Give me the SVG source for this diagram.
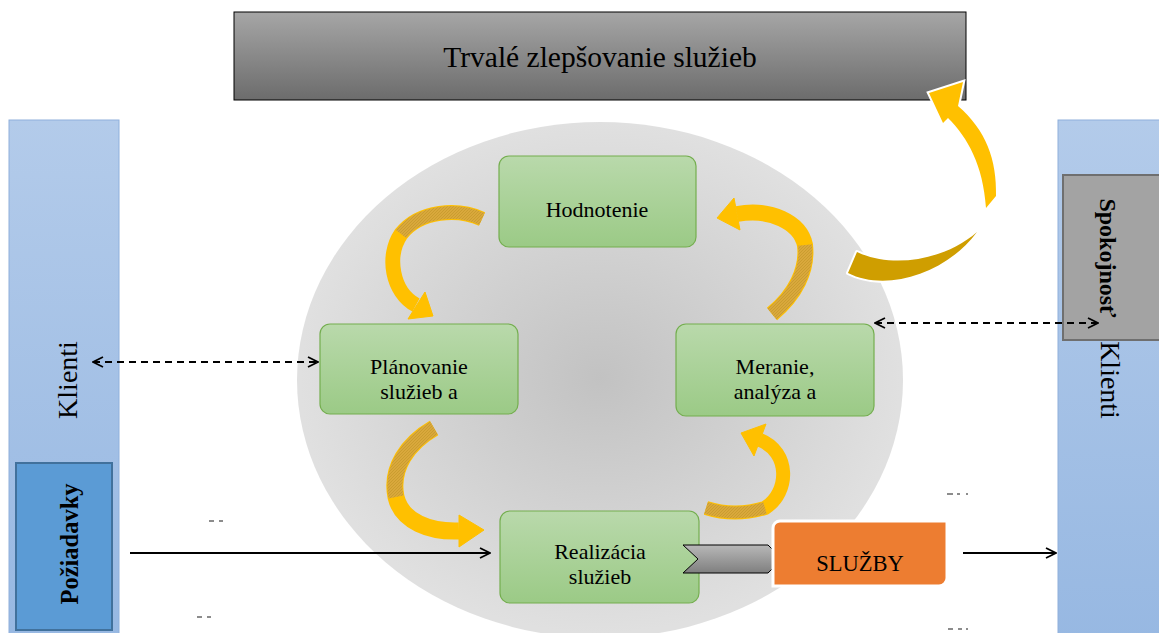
<svg xmlns="http://www.w3.org/2000/svg" width="1159" height="633" viewBox="0 0 1159 633">
<style>
.serif{font-family:"Liberation Serif","Times New Roman",serif;fill:#000}
.node{stroke:#74ae4f;stroke-width:1.2;fill:url(#gGreen)}
.ntext{font-size:22px;text-anchor:middle}
.dash{stroke:#000;stroke-width:2;stroke-dasharray:7 5;fill:none}
.solid{stroke:#000;stroke-width:1.8;fill:none}
.yl{fill:none;stroke:#ffc000;stroke-linecap:butt}
.hatch{fill:none;stroke:url(#hatch);stroke-linecap:butt}
.head{fill:#ffc000;stroke:#ffc000;stroke-width:1}
.mark{stroke:#666;stroke-width:1.5}
</style>
<defs>
<linearGradient id="gGreen" x1="0" y1="0" x2="0" y2="1"><stop offset="0" stop-color="#b9d9ab"/><stop offset="1" stop-color="#9bca86"/></linearGradient>
<linearGradient id="gTop" x1="0" y1="0" x2="0" y2="1"><stop offset="0" stop-color="#a6a6a6"/><stop offset="1" stop-color="#6c6c6c"/></linearGradient>
<linearGradient id="gBlue" x1="0" y1="0" x2="0" y2="1"><stop offset="0" stop-color="#b3cbea"/><stop offset="1" stop-color="#97b8e2"/></linearGradient>
<linearGradient id="gChev" x1="0" y1="0" x2="0" y2="1"><stop offset="0" stop-color="#b8b8b8"/><stop offset="1" stop-color="#7f7f7f"/></linearGradient>
<radialGradient id="gEll" cx="600" cy="378" r="300" gradientUnits="userSpaceOnUse" gradientTransform="translate(600 378) scale(1 0.85) translate(-600 -378)"><stop offset="0" stop-color="#c2c2c2"/><stop offset="1" stop-color="#e0e0e0"/></radialGradient>
<pattern id="hatch" patternUnits="userSpaceOnUse" width="3" height="3"><rect width="3" height="3" fill="#d9a83c"/><path d="M0,3 L3,0" stroke="#c79a2c" stroke-width="0.8"/></pattern>
<marker id="arr" viewBox="0 0 12 12" refX="11" refY="6" markerWidth="12" markerHeight="12" markerUnits="userSpaceOnUse" orient="auto-start-reverse"><path d="M1,1 L11,6 L1,11" fill="none" stroke="#000" stroke-width="1.8"/></marker>
</defs>
<rect width="1159" height="633" fill="#fff"/>

<g id="background-ellipse"><ellipse cx="600" cy="380" rx="303" ry="258" fill="url(#gEll)"/></g>

<g id="top-bar"><rect x="234" y="12" width="732" height="88" fill="url(#gTop)" stroke="#000" stroke-width="1"/><text class="serif" x="600" y="67" font-size="29.5" text-anchor="middle">Trvalé zlepšovanie služieb</text></g>

<g id="klienti-left"><rect x="9" y="120" width="110" height="520" fill="url(#gBlue)" stroke="#8fb0dc" stroke-width="1"/><text class="serif" transform="translate(77 380) rotate(-90)" font-size="28" text-anchor="middle">Klienti</text></g>
<g id="poziadavky"><rect x="16" y="463" width="96" height="167" fill="#5b9bd5" stroke="#41719c" stroke-width="2"/><text class="serif" transform="translate(78 544) rotate(-90)" font-size="24.5" font-weight="bold" text-anchor="middle">Požiadavky</text></g>

<g id="klienti-right"><rect x="1058" y="120" width="110" height="520" fill="url(#gBlue)" stroke="#8fb0dc" stroke-width="1"/><text class="serif" transform="translate(1101 380) rotate(90)" font-size="28" text-anchor="middle">Klienti</text></g>
<g id="spokojnost"><rect x="1063" y="175" width="100" height="165" fill="#a3a3a3" stroke="#6f6f6f" stroke-width="2"/><text class="serif" transform="translate(1100 258) rotate(90)" font-size="24" font-weight="bold" text-anchor="middle">Spokojnosť</text></g>

<g id="hodnotenie"><rect class="node" x="499" y="156" width="197" height="91" rx="10"/><text class="serif ntext" x="597" y="217">Hodnotenie</text></g>
<g id="planovanie"><rect class="node" x="320" y="324" width="198" height="90" rx="10"/><text class="serif ntext" x="419" y="374">Plánovanie</text><text class="serif ntext" x="419" y="399">služieb a</text></g>
<g id="meranie"><rect class="node" x="676" y="324" width="198" height="92" rx="10"/><text class="serif ntext" x="775" y="374">Meranie,</text><text class="serif ntext" x="775" y="399">analýza a</text></g>
<g id="realizacia"><rect class="node" x="500" y="511" width="199" height="92" rx="10"/><text class="serif ntext" x="600" y="559">Realizácia</text><text class="serif ntext" x="600" y="584">služieb</text></g>

<g id="chevron"><polygon points="683,545 768,545 782,559 768,573 683,573 698,559" fill="url(#gChev)" stroke="#000" stroke-width="1"/></g>
<g id="sluzby"><path d="M780,521 H947 V578 A8,8 0 0 1 939,586 H773 V528 A7,7 0 0 1 780,521 Z" fill="#ed7d31" stroke="#fff" stroke-width="3"/><text class="serif" x="860" y="571" font-size="22.5" text-anchor="middle">SLUŽBY</text></g>

<g id="cycle-arrows">
<path class="yl" stroke-width="15" d="M482,219 C458,208 420,210 401,234 C386,256 392,292 416,305"/>
<path class="hatch" stroke-width="13" d="M482,219 C458,208 420,210 401,234"/>
<polygon class="head" points="408,319 425,292 433,316"/>

<path class="yl" stroke-width="17" d="M434,428 C408,443 390,468 396,497 C402,522 430,532 459,531"/>
<path class="hatch" stroke-width="15" d="M434,428 C408,443 390,468 396,497"/>
<polygon class="head" points="459,515 459,547 484,530"/>

<path class="yl" stroke-width="14" d="M706,508 C725,514 745,514 765,508 C790,492 790,452 760,440"/>
<path class="hatch" stroke-width="12" d="M706,508 C725,514 745,514 765,508"/>
<polygon class="head" points="766,424 754,456 741,433"/>

<path class="yl" stroke-width="16" d="M772,314 C795,295 808,270 805,245 C800,222 770,208 737,214"/>
<path class="hatch" stroke-width="14" d="M772,314 C795,295 808,270 805,245"/>
<polygon class="head" points="740,230 734,198 717,218"/>
</g>

<g id="improvement-arrow">
<path d="M848,273 C885,292 945,275 977,232 C948,258 895,270 857,252 Z" fill="#cf9e00" stroke="#fff" stroke-width="4" paint-order="stroke" stroke-linejoin="round"/>
<path d="M996,196 C997,160 986,130 958,106 L963,82 L929,93 L943,123 L948,118 C968,138 983,165 986,208 Z" fill="#ffc000" stroke="#fff" stroke-width="4" paint-order="stroke" stroke-linejoin="miter"/>
</g>

<g id="connectors">
<line class="dash" x1="93" y1="362" x2="318" y2="362" marker-start="url(#arr)" marker-end="url(#arr)"/>
<line class="dash" x1="875" y1="323" x2="1098" y2="323" marker-start="url(#arr)" marker-end="url(#arr)"/>
<line class="solid" x1="130" y1="553" x2="490" y2="553" marker-end="url(#arr)"/>
<line class="solid" x1="963" y1="553" x2="1056" y2="553" marker-end="url(#arr)"/>
</g>

<g id="marks">
<line class="mark" x1="209" y1="521" x2="214" y2="521"/><line class="mark" x1="219" y1="521" x2="223" y2="521"/>
<line class="mark" x1="197" y1="617" x2="202" y2="617"/><line class="mark" x1="207" y1="617" x2="211" y2="617"/>
<line class="mark" x1="947" y1="494" x2="953" y2="494"/><line class="mark" x1="957" y1="494" x2="960" y2="494"/><line class="mark" x1="966" y1="494" x2="968" y2="494"/>
<line class="mark" x1="948" y1="629" x2="953" y2="629"/><line class="mark" x1="958" y1="629" x2="962" y2="629"/><line class="mark" x1="966" y1="629" x2="968" y2="629"/>
</g>
</svg>
